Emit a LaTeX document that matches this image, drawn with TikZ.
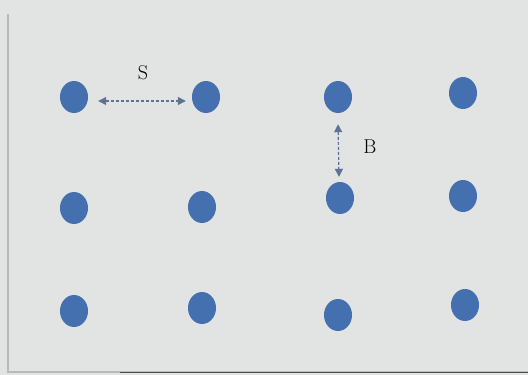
\documentclass[tikz,border=0pt]{standalone}
\usetikzlibrary{arrows.meta,shapes.geometric}
\definecolor{bg}{HTML}{E2E4E3}
\definecolor{dotc}{HTML}{4470B0}
\definecolor{arrc}{HTML}{5E7394}
\definecolor{framec}{HTML}{B8BAB9}
\begin{document}
\begin{tikzpicture}[x=1pt,y=-1pt,
  dot/.style={ellipse,minimum width=28pt,minimum height=32pt,inner sep=0pt,fill=dotc,draw=none},
  dimarrow/.style={densely dashed,draw=arrc,line width=1.2pt,{Triangle[length=8pt,width=8pt]}-{Triangle[length=8pt,width=8pt]}},
  lbl/.style={font=\fontsize{20}{24}\selectfont}]
\useasboundingbox (0,0) rectangle (528,375);
\fill[bg] (0,0) rectangle (528,375);
\draw[framec,line width=1.2pt] (8,14) -- (8,372) -- (528,372);
\draw[black!70,line width=0.6pt] (120,372.5) -- (528,372.5);
% row 1
\node[dot] (a1) at (74,97) {};
\node[dot] (a2) at (206,97) {};
\node[dot] (a3) at (338,97) {};
\node[dot] (a4) at (463,93) {};
% row 2
\node[dot] (b1) at (74,208) {};
\node[dot] (b2) at (202,207) {};
\node[dot] (b3) at (340,198) {};
\node[dot] (b4) at (463,196) {};
% row 3
\node[dot] (c1) at (74,311) {};
\node[dot] (c2) at (202,308) {};
\node[dot] (c3) at (338,315) {};
\node[dot] (c4) at (465,305) {};
% dimensions
\draw[dimarrow] ([xshift=10pt,yshift=-4pt]a1.east) -- ([xshift=-6pt,yshift=-4pt]a2.west);
\draw[dimarrow] ([yshift=-11pt]a3.south) -- ([yshift=5pt,xshift=-1pt]b3.north);
\node[lbl] (s) at (143,73) {S};
\node[lbl] (bl) at (370,147) {B};
\end{tikzpicture}
\end{document}
